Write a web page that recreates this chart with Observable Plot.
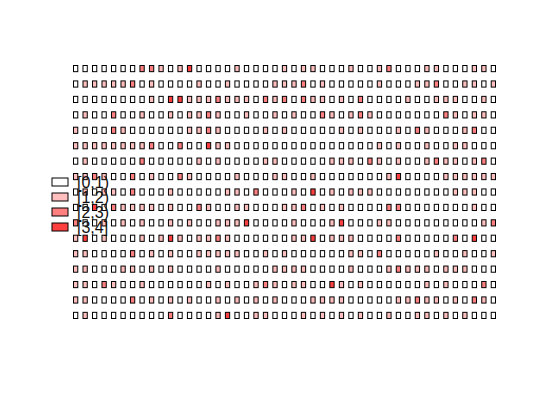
<!DOCTYPE html>
<html>
<head>
<meta charset="utf-8">
<script src="https://cdn.jsdelivr.net/npm/d3@7"></script>
<script src="https://cdn.jsdelivr.net/npm/@observablehq/plot@0.6"></script>
<style>
  html, body { margin: 0; padding: 0; background: #fff; }
  #chart { width: 540px; height: 400px; }
</style>
</head>
<body>
<div id="chart"></div>
<script>
// Level (0..3) of each cell, one string per row (top to bottom), 45 columns each
const rows = [
  "00000002210" + "13000010000" + "1" + "01100010012" + "00011000110",
  "01111120100" + "00100100001" + "1" + "12010000010" + "00112001101",
  "00000000103" + "31112111021" + "2" + "02110102000" + "01001110010",
  "01002001001" + "01121001001" + "0" + "10021012100" + "00000210110",
  "10002100000" + "01121000010" + "1" + "00000101000" + "10210001200",
  "11111111200" + "20031100000" + "0" + "00000000010" + "10010011000",
  "01000002000" + "00101000011" + "0" + "00001110210" + "10012110120",
  "11210020100" + "21000010001" + "1" + "00100000001" + "30000111111",
  "01011020001" + "00000110200" + "0" + "10301011100" + "00000011100",
  "00302111101" + "00210011000" + "1" + "12010100002" + "20000000100",
  "20010101001" + "01001113000" + "0" + "10001300011" + "00000000012",
  "13010001013" + "10112100000" + "0" + "11301110000" + "20000020300",
  "11000020101" + "00111110010" + "1" + "00000011020" + "00001001001",
  "11000110101" + "00001000001" + "1" + "11000010001" + "21110111000",
  "11021001000" + "00010100121" + "0" + "11003101000" + "00010100020",
  "11000020101" + "01001010101" + "0" + "00111100000" + "11211010210",
  "01000000002" + "00001300110" + "0" + "01010101001" + "00110101000"
];
const columns = d3.range(45);
const rowIds = d3.range(17);
const levelDomain = [0, 1, 2, 3];
const palette = ["#FFFFFF", "#FFBFBF", "#FF8080", "#FF4040"];
const legendLabels = ["[0,1)", "[1,2)", "[2,3)", "[3,4]"];

const cells = [];
rows.forEach((s, r) => {
  for (let c = 0; c < s.length; c++) cells.push({row: r, col: c, level: +s[c]});
});

const chart = Plot.plot({
  width: 540,
  height: 400,
  margin: 0,
  style: {background: "#fff"},
  x: {type: "band", domain: columns, range: [73.5, 495.5], paddingInner: 0.55, paddingOuter: 0, round: false, axis: null},
  y: {type: "band", domain: rowIds, range: [65.5, 318.5], paddingInner: 0.6, paddingOuter: 0, round: false, axis: null},
  color: {type: "ordinal", domain: levelDomain, range: palette},
  marks: [
    Plot.cell(cells, {x: "col", y: "row", fill: "level", stroke: "black", strokeWidth: 1, inset: 0})
  ]
});

// legend boxes and labels
const svg = d3.select(chart);
const lg = svg.append("g");
legendLabels.forEach((lab, i) => {
  lg.append("rect")
    .attr("x", 52).attr("y", 178 + 15 * i)
    .attr("width", 16).attr("height", 8)
    .attr("fill", palette[i]).attr("stroke", "black").attr("stroke-width", 1);
  lg.append("text")
    .attr("x", 77).attr("y", 182.5 + 15 * i)
    .attr("text-anchor", "start")
    .attr("dominant-baseline", "central")
    .attr("font-family", "'Liberation Sans', Arial, sans-serif")
    .attr("font-size", 16)
    .attr("fill", "#111")
    .text(lab);
});

document.getElementById("chart").appendChild(chart);
</script>
</body>
</html>
